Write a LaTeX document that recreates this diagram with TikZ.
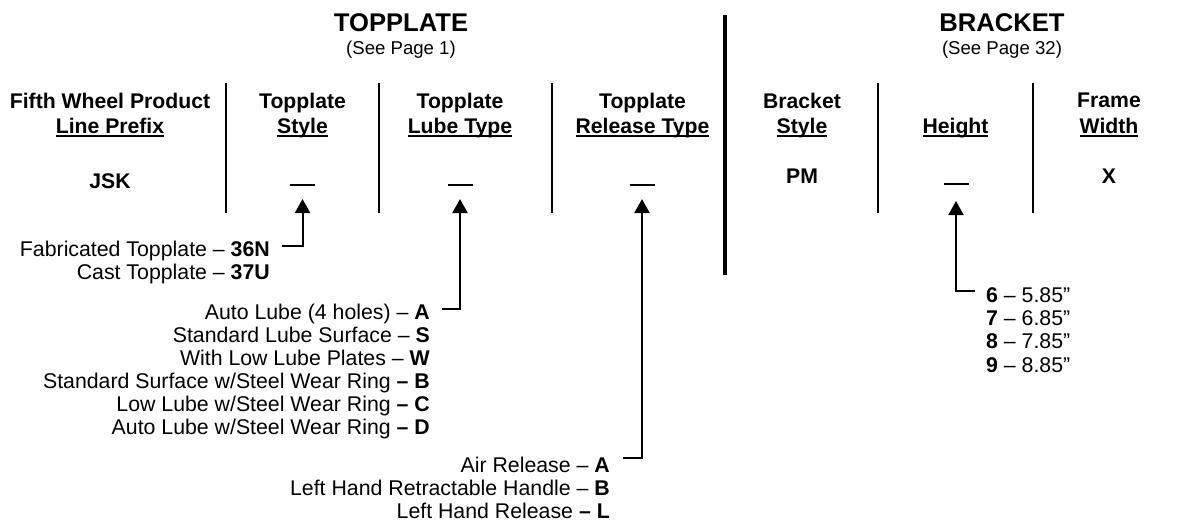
\documentclass[tikz,border=0pt]{standalone}
\usepackage{fontspec}
\setmainfont{Liberation Sans}
\usetikzlibrary{arrows.meta}
\newsavebox\ulbox
\newcommand\ulx[1]{\sbox\ulbox{#1}\rlap{\rule[-4pt]{\wd\ulbox}{2pt}}\usebox\ulbox}
\tikzset{
  hd/.style={font=\fontsize{21.2}{23}\selectfont\bfseries, inner sep=0pt, anchor=base},
  itemr/.style={font=\fontsize{21.3}{23}\selectfont, inner sep=0pt, anchor=base east},
  iteml/.style={font=\fontsize{21.3}{23}\selectfont, inner sep=0pt, anchor=base west},
  big/.style={font=\fontsize{25.6}{28}\selectfont\bfseries, inner sep=0pt, anchor=base},
  sub/.style={font=\fontsize{18.6}{20}\selectfont, inner sep=0pt, anchor=base},
  sepline/.style={line width=2pt},
  bigsep/.style={line width=4pt},
  arr/.style={line width=2pt, -{Triangle[width=15pt,length=14pt]}},
  blank/.style={line width=2.2pt}
}
\begin{document}
\begin{tikzpicture}[x=1pt,y=-1pt]
\useasboundingbox (0,0) rectangle (1177,523);
% section titles
\node[big] (tp) at (401,31.5) {TOPPLATE};
\node[sub] (tps) at (401,54.5) {(See Page 1)};
\node[big] (br) at (1002,31.5) {BRACKET};
\node[sub] (brs) at (1002,54.5) {(See Page 32)};
% separators
\draw[bigsep] (725,15) -- (725,275);
\foreach \x in {226,379,552,878,1033} \draw[sepline] (\x,83) -- (\x,213);
% column headers
\node[hd] (h1a) at (110,108) {Fifth Wheel Product};
\node[hd] (h1b) at (110,133) {\ulx{Line Prefix}};
\node[hd] (h2a) at (302.5,108) {Topplate};
\node[hd] (h2b) at (302.5,133) {\ulx{Style}};
\node[hd] (h3a) at (460,108) {Topplate};
\node[hd] (h3b) at (460,133) {\ulx{Lube Type}};
\node[hd] (h4a) at (642.5,108) {Topplate};
\node[hd] (h4b) at (642.5,133) {\ulx{Release Type}};
\node[hd] (h5a) at (802,108) {Bracket};
\node[hd] (h5b) at (802,133) {\ulx{Style}};
\node[hd] (h6b) at (955.5,133) {\ulx{Height}};
\node[hd] (h7a) at (1109,107) {Frame};
\node[hd] (h7b) at (1109,133) {\ulx{Width}};
% values
\node[hd] (v1) at (110,188) {JSK};
\node[hd] (v5) at (802,183) {PM};
\node[hd] (v7) at (1109,183) {X};
\coordinate (d2) at (302.5,185);
\coordinate (d3) at (460,185);
\coordinate (d4) at (642,185);
\coordinate (d6) at (956,184);
\foreach \d in {d2,d3,d4,d6} \draw[blank] ([xshift=-12.5pt]\d) -- ([xshift=12.5pt]\d);
% lists
\node[itemr] (a1) at (270,256) {Fabricated Topplate – \textbf{36N}};
\node[itemr] (a2) at (270,279) {Cast Topplate – \textbf{37U}};
\node[itemr] (b1) at (430,319) {Auto Lube (4 holes) – \textbf{A}};
\node[itemr] (b2) at (430,342) {Standard Lube Surface – \textbf{S}};
\node[itemr] (b3) at (430,365) {With Low Lube Plates – \textbf{W}};
\node[itemr] (b4) at (430,388) {Standard Surface w/Steel Wear Ring \textbf{– B}};
\node[itemr] (b5) at (430,411) {Low Lube w/Steel Wear Ring \textbf{– C}};
\node[itemr] (b6) at (430,434) {Auto Lube w/Steel Wear Ring \textbf{– D}};
\node[itemr] (c1) at (610,472) {Air Release – \textbf{A}};
\node[itemr] (c2) at (610,495) {Left Hand Retractable Handle – \textbf{B}};
\node[itemr] (c3) at (610,518) {Left Hand Release \textbf{– L}};
\node[iteml] (e1) at (986,302) {\textbf{6} – 5.85”};
\node[iteml] (e2) at (986,325.3) {\textbf{7} – 6.85”};
\node[iteml] (e3) at (986,348.6) {\textbf{8} – 7.85”};
\node[iteml] (e4) at (986,372) {\textbf{9} – 8.85”};
% connectors
\draw[arr] ([xshift=12pt,yshift=10pt]a1.base east) -| ([yshift=-14pt]d2);
\draw[arr] ([xshift=12pt,yshift=10pt]b1.base east) -| ([yshift=-14pt]d3);
\draw[arr] ([xshift=13pt,yshift=14pt]c1.base east) -| ([yshift=-14pt]d4);
\draw[arr] ([xshift=-11pt,yshift=11pt]e1.base west) -| ([yshift=-17pt]d6);
\end{tikzpicture}
\end{document}
